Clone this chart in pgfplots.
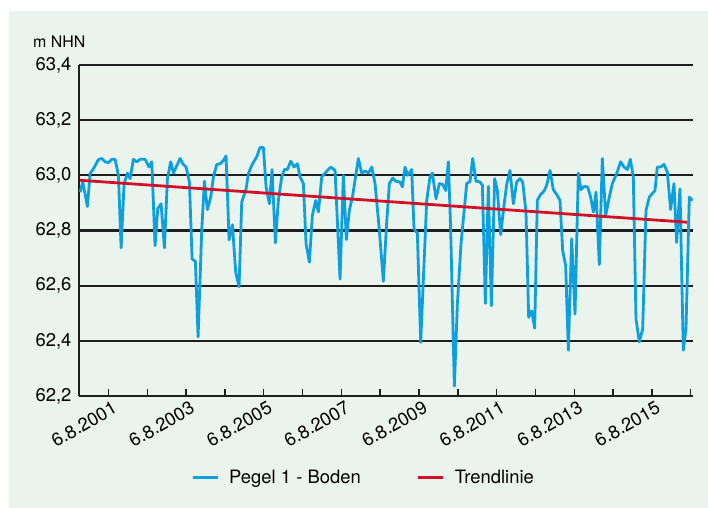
\documentclass[border=0pt]{standalone}
\usepackage{fontspec}
\setmainfont{TeX Gyre Heros}
\usepackage{pgfplots}
\usepackage{pgfplotstable}
\pgfplotsset{compat=1.18}
\definecolor{bggreen}{RGB}{235,244,236}
\definecolor{pegelblue}{RGB}{14,160,222}
\definecolor{trendred}{RGB}{210,16,42}
\definecolor{griddark}{RGB}{30,30,30}

\pgfplotstableread{
x y
2000.868 62.939
2000.937 62.976
2001.057 62.887
2001.126 63.006
2001.212 63.024
2001.341 63.057
2001.427 63.061
2001.513 63.049
2001.598 63.046
2001.684 63.058
2001.770 63.058
2001.856 63.000
2001.925 62.737
2002.002 62.970
2002.088 63.008
2002.156 62.988
2002.242 63.058
2002.328 63.049
2002.414 63.058
2002.543 63.058
2002.646 63.030
2002.715 63.049
2002.800 62.745
2002.869 62.879
2002.955 62.897
2003.041 62.737
2003.118 62.988
2003.204 63.049
2003.273 63.008
2003.444 63.061
2003.513 63.042
2003.599 63.030
2003.685 62.976
2003.754 62.697
2003.839 62.688
2003.908 62.414
2004.002 62.800
2004.071 62.979
2004.148 62.876
2004.234 62.921
2004.303 62.994
2004.389 63.039
2004.475 63.042
2004.561 63.054
2004.629 63.070
2004.707 62.766
2004.793 62.821
2004.878 62.648
2004.964 62.596
2005.033 62.903
2005.145 62.951
2005.205 63.006
2005.290 63.036
2005.419 63.067
2005.505 63.101
2005.591 63.101
2005.660 62.958
2005.746 62.897
2005.814 63.021
2005.900 62.755
2005.977 62.909
2006.063 62.994
2006.132 63.021
2006.209 63.021
2006.295 63.051
2006.381 63.030
2006.467 63.042
2006.536 62.994
2006.622 62.970
2006.690 62.752
2006.776 62.685
2006.853 62.855
2006.939 62.909
2007.008 62.867
2007.094 62.994
2007.205 63.012
2007.326 63.030
2007.437 63.018
2007.566 62.624
2007.652 63.000
2007.729 62.767
2007.806 62.873
2007.892 62.927
2008.038 63.061
2008.124 63.008
2008.210 63.016
2008.296 63.008
2008.382 63.030
2008.468 62.970
2008.579 62.800
2008.682 62.616
2008.768 62.830
2008.837 62.970
2008.923 62.990
2009.009 62.978
2009.112 62.976
2009.172 62.958
2009.240 63.030
2009.309 63.000
2009.369 63.012
2009.412 63.021
2009.472 62.806
2009.558 62.790
2009.644 62.394
2009.799 62.909
2009.884 62.994
2009.945 63.008
2010.039 62.915
2010.125 62.970
2010.211 62.967
2010.288 62.945
2010.357 63.049
2010.417 62.800
2010.511 62.236
2010.589 62.533
2010.683 62.752
2010.829 62.970
2010.915 62.978
2010.983 63.061
2011.069 62.979
2011.172 62.976
2011.233 62.964
2011.310 62.536
2011.387 62.960
2011.464 62.527
2011.550 62.988
2011.619 62.945
2011.705 62.785
2011.791 62.891
2011.859 62.966
2011.945 63.018
2012.031 62.897
2012.117 62.976
2012.203 62.988
2012.272 62.976
2012.357 62.867
2012.426 62.485
2012.503 62.509
2012.581 62.446
2012.649 62.909
2012.735 62.931
2012.821 62.943
2012.890 62.964
2012.976 63.018
2013.061 62.948
2013.164 62.927
2013.233 62.909
2013.302 62.727
2013.379 62.673
2013.448 62.366
2013.534 62.770
2013.620 62.497
2013.705 63.008
2013.774 62.948
2013.860 62.960
2013.946 62.958
2014.023 62.921
2014.092 62.867
2014.161 62.939
2014.246 62.676
2014.324 63.061
2014.410 62.855
2014.495 62.915
2014.581 62.970
2014.693 63.006
2014.796 63.049
2014.882 63.030
2014.968 63.021
2015.045 63.058
2015.122 62.994
2015.191 62.479
2015.277 62.396
2015.363 62.442
2015.449 62.873
2015.534 62.921
2015.680 62.945
2015.740 63.030
2015.826 63.030
2015.912 63.040
2015.998 63.012
2016.084 62.876
2016.170 62.970
2016.238 62.757
2016.324 62.951
2016.410 62.366
2016.479 62.442
2016.565 62.921
2016.651 62.909
}\pegel

\begin{document}
\begin{tikzpicture}
\fill[white] (-79bp,-112bp) rectangle (629bp,396bp);
\fill[bggreen] (-70bp,-112bp) rectangle (629bp,385bp);
\begin{axis}[
  scale only axis, width=614bp, height=331bp,
  xmin=2000.84, xmax=2016.66, ymin=62.2, ymax=63.4,
  axis x line=bottom, axis y line=left,
  axis line style={griddark, line width=2.2bp, -},
  ytick={62.2,62.4,62.6,62.8,63.0,63.2,63.4},
  ytick style={draw=none},
  ymajorgrids,
  major grid style={griddark, line width=2.2bp},
  /pgf/number format/fixed,
  /pgf/number format/fixed zerofill,
  /pgf/number format/precision=1,
  /pgf/number format/use comma,
  /pgf/number format/assume math mode=true,
  xtick={2001.6,2003.6,2005.6,2007.6,2009.6,2011.6,2013.6,2015.6},
  minor xtick={2002.6,2004.6,2006.6,2008.6,2010.6,2012.6,2014.6,2016.6},
  xticklabels={6.8.2001,6.8.2003,6.8.2005,6.8.2007,6.8.2009,6.8.2011,6.8.2013,6.8.2015},
  xtick style={griddark, line width=1.4bp},
  minor x tick style={griddark, line width=1.4bp},
  tick align=inside, major tick length=7bp, minor tick length=7bp,
  tick label style={font=\fontsize{18.5}{20}\selectfont},
  xticklabel style={rotate=30, anchor=north east, xshift=4bp, yshift=-2bp},
  yticklabel style={xshift=-4bp},
  legend style={draw=none, fill=none, at={(0.1824,-0.2468)}, anchor=west,
    legend columns=2, font=\fontsize{18.5}{20}\selectfont,
    /tikz/every odd column/.append style={column sep=10bp},
    /tikz/every even column/.append style={column sep=56bp},
    inner sep=0pt, nodes={inner sep=0pt}},
  legend image code/.code={\draw[#1, line width=3bp] (0bp,0bp) -- (25bp,0bp);},
]
\addplot[pegelblue, line width=2.8bp, line join=round] table[x=x, y=y] {\pegel};
\addlegendentry{Pegel 1 - Boden}
\addplot[trendred, line width=2.8bp] coordinates {(2000.868,62.982) (2016.513,62.830)};
\addlegendentry{Trendlinie}
\end{axis}
\node[anchor=base west, font=\fontsize{16}{18}\selectfont, inner sep=0pt] at (-46bp,348.5bp) {m NHN};
\end{tikzpicture}
\end{document}
